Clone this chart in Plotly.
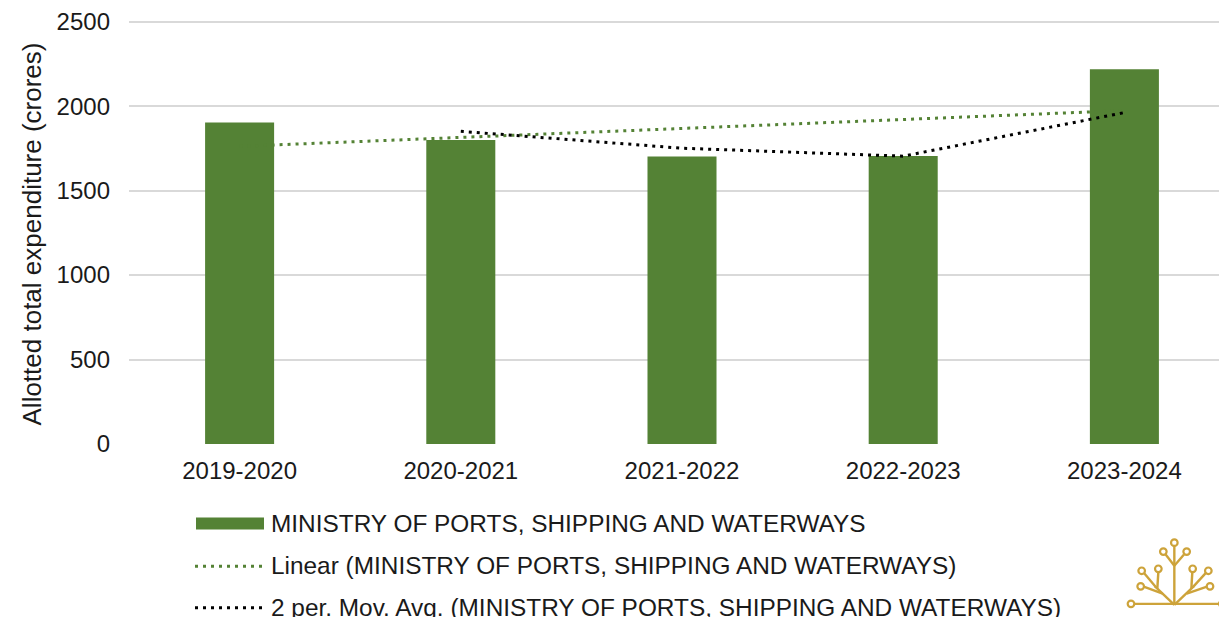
import plotly.graph_objects as go

# ---------------- data ----------------
categories = ["2019-2020", "2020-2021", "2021-2022", "2022-2023", "2023-2024"]
allotted = [1903, 1800, 1702, 1705, 2219]

# trendlines
linear_x = ["2019-2020", "2023-2024"]
linear_y = [1762, 1974]
movavg_x = ["2020-2021", "2021-2022", "2022-2023", "2023-2024"]
movavg_y = [1851, 1751, 1704, 1962]

series_name = "MINISTRY OF PORTS, SHIPPING AND WATERWAYS"
legend_labels = [
    series_name,
    "Linear (MINISTRY OF PORTS, SHIPPING AND WATERWAYS)",
    "2 per. Mov. Avg. (MINISTRY OF PORTS, SHIPPING AND WATERWAYS)",
]
y_title = "Allotted total expenditure (crores)"

# ---------------- style ----------------
W, H = 1227, 617
OFF = 8  # page body margin offset of the figure on screen
ML, MR, MT, MB = 121, 0, 9, 181
PW, PH = W - ML - MR, H - MT - MB
GREEN = "#548235"
GOLD = "#CDA33A"
TEXT = "#1a1a1a"
FONT = "Liberation Sans, Arial, sans-serif"
DOT = "3px,5px"


def px(x):
    return (x - OFF - ML) / PW


def py(y):
    return (H - MB - (y - OFF)) / PH


fig = go.Figure()
fig.add_trace(go.Scatter(x=linear_x, y=linear_y, mode="lines", showlegend=False,
                         line=dict(color=GREEN, width=3, dash=DOT), hoverinfo="skip"))
fig.add_trace(go.Bar(x=categories, y=allotted, name=series_name, showlegend=False,
                     width=0.312, marker=dict(color=GREEN, line=dict(width=0))))
fig.add_trace(go.Scatter(x=movavg_x, y=movavg_y, mode="lines", showlegend=False,
                         line=dict(color="#000000", width=3, dash=DOT), hoverinfo="skip"))

shapes = []
annotations = []

# y-axis title
annotations.append(dict(x=px(32), y=py(233), xref="paper", yref="paper", text=y_title,
                        textangle=-90, showarrow=False, xanchor="center", yanchor="middle",
                        font=dict(size=26, color=TEXT, family=FONT)))

# custom legend
rows_y = [524, 566, 609]
shapes.append(dict(type="rect", xref="paper", yref="paper", x0=px(196), x1=px(264),
                   y0=py(530), y1=py(518), fillcolor=GREEN, line=dict(width=0)))
shapes.append(dict(type="line", xref="paper", yref="paper", x0=px(195), x1=px(265),
                   y0=py(rows_y[1] + 1), y1=py(rows_y[1] + 1),
                   line=dict(color=GREEN, width=3, dash=DOT)))
shapes.append(dict(type="line", xref="paper", yref="paper", x0=px(195), x1=px(265),
                   y0=py(rows_y[2]), y1=py(rows_y[2]),
                   line=dict(color="#000000", width=3, dash=DOT)))
for lab, ry in zip(legend_labels, rows_y):
    annotations.append(dict(x=px(269), y=py(ry), xref="paper", yref="paper", text=lab,
                            showarrow=False, xanchor="left", yanchor="middle",
                            font=dict(size=24.4, color=TEXT, family=FONT)))

# decorative logo (bottom right)
def lz(zx, zy):
    return 1120 + zx / 3, 500 + zy / 3

logo_lines = [
    ((40, 315), (300, 315)),
    ((163, 315), (163, 140)),
    ((163, 200), (137, 166)),
    ((163, 200), (192, 166)),
    ((163, 318), (105, 262)),
    ((108, 265), (72, 222)),
    ((112, 269), (115, 219)),
    ((128, 284), (71, 263)),
    ((163, 318), (221, 262)),
    ((218, 265), (257, 222)),
    ((214, 269), (217, 219)),
    ((200, 284), (261, 263)),
]
for (a, b) in logo_lines:
    x0, y0 = lz(*a)
    x1, y1 = lz(*b)
    shapes.append(dict(type="line", xref="paper", yref="paper", x0=px(x0), y0=py(y0),
                       x1=px(x1), y1=py(y1), line=dict(color=GOLD, width=2.4)))
logo_circles = [(33, 315), (307, 315), (163, 130), (130, 157), (200, 157),
                (65, 215), (115, 209), (62, 262), (265, 215), (218, 209), (270, 262)]
r = 3.3
for (cx, cy) in logo_circles:
    x, y = lz(cx, cy)
    shapes.append(dict(type="circle", xref="paper", yref="paper", x0=px(x - r), x1=px(x + r),
                       y0=py(y + r), y1=py(y - r), fillcolor="white",
                       line=dict(color=GOLD, width=2.2)))

fig.update_layout(
    width=W, height=H,
    margin=dict(l=ML, r=MR, t=MT, b=MB, pad=0),
    paper_bgcolor="white", plot_bgcolor="white",
    font=dict(family=FONT, size=24, color=TEXT),
    showlegend=False,
    shapes=shapes,
    annotations=annotations,
    xaxis=dict(type="category", categoryorder="array", categoryarray=categories,
               range=[-0.5, 4.5], showgrid=False, zeroline=False,
               showline=False, ticks="", tickfont=dict(size=24, color=TEXT, family=FONT),
               ticklabelstandoff=10, fixedrange=True),
    yaxis=dict(range=[0, 2510], tickvals=[0, 500, 1000, 1500, 2000, 2500],
               showgrid=True, gridcolor="#d9d9d9", gridwidth=2,
               zeroline=False, showline=False, ticks="",
               tickfont=dict(size=24, color=TEXT, family=FONT),
               ticklabeloverflow="allow",
               ticklabelstandoff=18, fixedrange=True),
)

fig.write_html("out.html")
